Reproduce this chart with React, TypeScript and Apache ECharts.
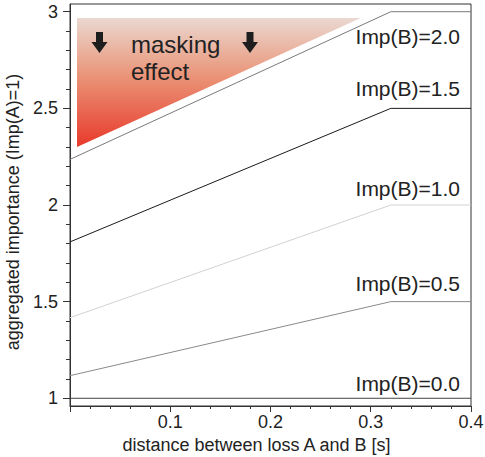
import React, { useEffect, useRef } from "react";
import * as echarts from "echarts";

// ---- data ----
const distance = [0, 0.32, 0.4];
const imp20 = [2.236, 3.0, 3.0];
const imp15 = [1.809, 2.5, 2.5];
const imp10 = [1.417, 2.0, 2.0];
const imp05 = [1.117, 1.5, 1.5];
const imp00 = [1.0, 1.0, 1.0];
const seriesNames = ["Imp(B)=2.0", "Imp(B)=1.5", "Imp(B)=1.0", "Imp(B)=0.5", "Imp(B)=0.0"];
const yMajorTicks = [1, 1.5, 2, 2.5, 3];
const yMinorTicks = [1.1, 1.2, 1.3, 1.4, 1.6, 1.7, 1.8, 1.9, 2.1, 2.2, 2.3, 2.4, 2.6, 2.7, 2.8, 2.9];
const maskTriangleX = [0.007, 0.29, 0.007];
const maskTriangleY = [2.967, 2.967, 2.3];

const FONT = "'Liberation Sans', Arial, Helvetica, sans-serif";

function arrowPoints(cx: number, top: number) {
  return [
    [cx - 3.5, top],
    [cx + 3.5, top],
    [cx + 3.5, top + 10],
    [cx + 8, top + 10],
    [cx, top + 21],
    [cx - 8, top + 10],
    [cx - 3.5, top + 10],
  ];
}

export default function App() {
  const ref = useRef<HTMLDivElement>(null);
  useEffect(() => {
    if (!ref.current) return;
    const chart = echarts.init(ref.current, undefined, { renderer: "svg" });
    const mk = (vals: number[]) => distance.map((d, i) => [d, vals[i]]);
    const colors = ["#7a7a7a", "#1a1a1a", "#d2d2d2", "#8a8a8a", "#444444"];
    const all = [imp20, imp15, imp10, imp05, imp00];
    const lineSeries = all.map((vals, i) => ({
      type: "line",
      name: seriesNames[i],
      data: mk(vals),
      showSymbol: false,
      symbol: "none",
      lineStyle: { color: colors[i], width: 1 },
      z: 3,
    }));
    const labelYs = [38, 90, 190, 285, 385];
    chart.setOption({
      animation: false,
      backgroundColor: "#ffffff",
      grid: {
        left: 70,
        right: 14,
        top: 4,
        bottom: 51,
        show: true,
        borderColor: "#333",
        borderWidth: 1,
        containLabel: false,
        outerBoundsMode: "none",
      },
      xAxis: {
        type: "value",
        min: 0,
        max: 0.4,
        interval: 0.1,
        name: "distance between loss A and B [s]",
        nameLocation: "middle",
        nameGap: 30,
        nameTextStyle: { fontFamily: FONT, fontSize: 18, color: "#222", padding: [0, 28, 0, 0] },
        axisLine: { show: true, lineStyle: { color: "#333" } },
        axisTick: { show: true, length: 6, lineStyle: { color: "#333" } },
        minorTick: { show: true, splitNumber: 5, length: 3, lineStyle: { color: "#333" } },
        splitLine: { show: false },
        axisLabel: {
          fontFamily: FONT,
          fontSize: 18,
          color: "#222",
          margin: 7,
          formatter: (v: number) => (v === 0 ? "" : v.toFixed(1)),
        },
      },
      yAxis: [
        {
          type: "value",
          min: 0.96,
          max: 3.04,
          position: "left",
          name: "aggregated importance (Imp(A)=1)",
          nameLocation: "middle",
          nameGap: 43,
          nameTextStyle: { fontFamily: FONT, fontSize: 18, color: "#222", padding: [0, 14, 0, 0] },
          axisLine: { show: true, lineStyle: { color: "#333" } },
          axisTick: { show: true, length: 7, customValues: yMajorTicks, lineStyle: { color: "#333" } },
          splitLine: { show: false },
          axisLabel: {
            fontFamily: FONT,
            fontSize: 18,
            color: "#222",
            margin: 12,
            customValues: yMajorTicks,
            formatter: (v: number) => String(v),
          },
        },
        {
          type: "value",
          min: 0.96,
          max: 3.04,
          position: "left",
          offset: 0,
          axisLine: { show: false },
          axisTick: { show: true, length: 4, customValues: yMinorTicks, lineStyle: { color: "#333" } },
          splitLine: { show: false },
          axisLabel: { show: false },
        },
      ],
      series: [
        {
          type: "custom",
          clip: false,
          silent: true,
          z: 1,
          data: [[0, 0]],
          renderItem: (_params: any, api: any) => {
            const pts = maskTriangleX.map((x, i) => api.coord([x, maskTriangleY[i]]));
            return {
              type: "polygon",
              shape: { points: pts },
              style: {
                fill: new echarts.graphic.LinearGradient(0, 0, 0, 1, [
                  { offset: 0, color: "#ead8d0" },
                  { offset: 0.45, color: "#ea9478" },
                  { offset: 1, color: "#e8392a" },
                ]),
              },
            };
          },
        },
        ...lineSeries,
      ],
      graphic: [
        { type: "polygon", shape: { points: arrowPoints(99.5, 32) }, style: { fill: "#1e1e1e" }, z: 10 },
        { type: "polygon", shape: { points: arrowPoints(250, 32) }, style: { fill: "#1e1e1e" }, z: 10 },
        {
          type: "text",
          left: 131,
          top: 32,
          z: 10,
          style: { text: "masking", font: `24px ${FONT}`, fill: "#222" },
        },
        {
          type: "text",
          left: 131,
          top: 59,
          z: 10,
          style: { text: "effect", font: `24px ${FONT}`, fill: "#222" },
        },
        ...seriesNames.map((n, i) => ({
          type: "text",
          right: 485 - 460,
          top: labelYs[i] - 12,
          z: 10,
          style: { text: n, font: `21px ${FONT}`, fill: "#222" },
        })),
      ],
    });
    return () => chart.dispose();
  }, []);
  return (
    <div
      ref={ref}
      style={{ position: "fixed", left: 0, top: 0, width: 485, height: 457, background: "#fff" }}
    />
  );
}
